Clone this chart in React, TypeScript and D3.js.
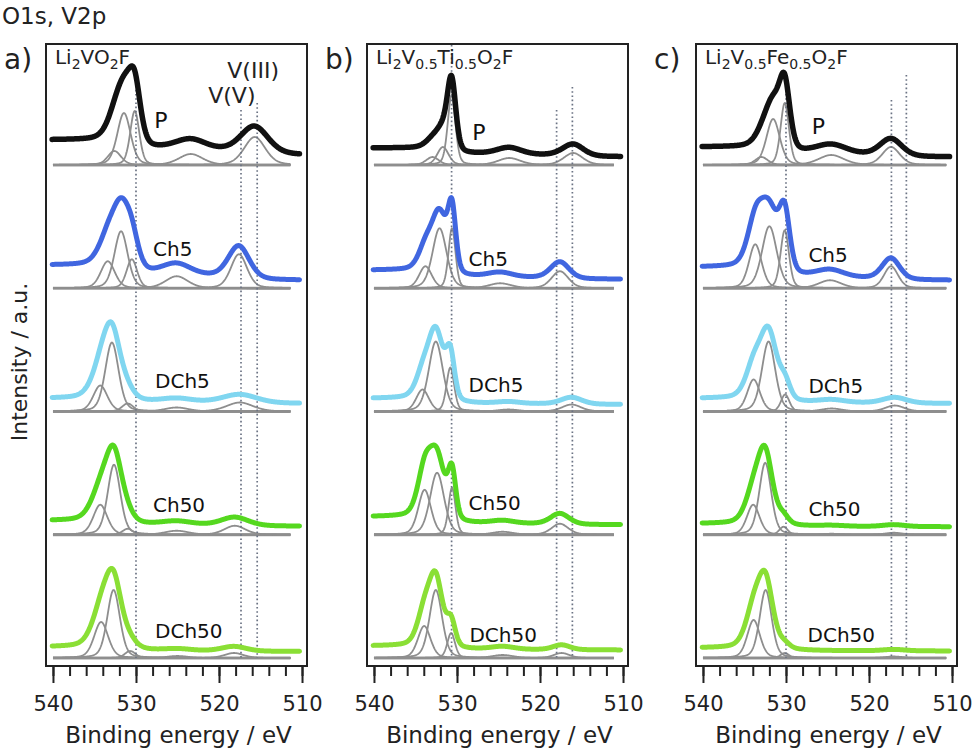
import { useEffect, useRef } from 'react';
import * as d3 from 'd3';

type Peak = [number, number, number];

const rowNames = ['P', 'Ch5', 'DCh5', 'Ch50', 'DCh50'];
const rowColors = ['#111111', '#4066e0', '#80d6f0', '#55d81f', '#8adf35'];
const panelLetters = ['a)', 'b)', 'c)'];

const formulaA: [string, boolean][] = [['Li', false], ['2', true], ['VO', false], ['2', true], ['F', false]];
const formulaB: [string, boolean][] = [['Li', false], ['2', true], ['V', false], ['0.5', true], ['Ti', false], ['0.5', true], ['O', false], ['2', true], ['F', false]];
const formulaC: [string, boolean][] = [['Li', false], ['2', true], ['V', false], ['0.5', true], ['Fe', false], ['0.5', true], ['O', false], ['2', true], ['F', false]];

// fitted components per row: [centre / eV, height / a.u., FWHM / eV]
const peaksA: Peak[][] = [
  [[532.6, 0.14, 1.9], [531.45, 0.52, 1.9], [530.15, 0.54, 1.3], [523.4, 0.11, 3.4], [515.7, 0.28, 3.0]],
  [[533.4, 0.27, 2.0], [531.8, 0.57, 1.9], [530.5, 0.29, 1.5], [525.1, 0.12, 3.2], [517.6, 0.34, 2.3]],
  [[534.3, 0.26, 2.0], [532.9, 0.69, 1.9], [531.0, 0.08, 1.6], [525.1, 0.04, 3.4], [517.5, 0.09, 3.8]],
  [[534.3, 0.30, 2.0], [532.65, 0.70, 1.8], [531.0, 0.06, 1.5], [525.1, 0.04, 3.4], [518.1, 0.09, 3.0]],
  [[534.2, 0.36, 2.0], [532.7, 0.68, 1.8], [530.7, 0.07, 1.5], [525.0, 0.02, 3.0], [518.2, 0.05, 2.7]],
];
const peaksB: Peak[][] = [
  [[532.95, 0.08, 1.8], [531.7, 0.18, 1.6], [530.65, 0.70, 1.1], [523.7, 0.07, 3.2], [516.0, 0.12, 2.7]],
  [[533.8, 0.22, 1.8], [532.1, 0.60, 2.0], [530.6, 0.60, 1.0], [524.8, 0.05, 3.2], [517.6, 0.17, 2.4]],
  [[534.15, 0.22, 1.8], [532.55, 0.70, 2.0], [530.8, 0.44, 1.1], [523.8, 0.02, 3.0], [516.2, 0.07, 2.7]],
  [[533.9, 0.45, 1.8], [532.4, 0.62, 2.0], [530.6, 0.47, 1.0], [524.5, 0.03, 3.0], [517.6, 0.11, 2.4]],
  [[533.95, 0.32, 1.8], [532.55, 0.68, 1.8], [530.7, 0.25, 1.1], [524.5, 0.03, 3.0], [517.4, 0.05, 2.2]],
];
const peaksC: Peak[][] = [
  [[532.95, 0.08, 1.8], [531.55, 0.46, 1.9], [530.15, 0.62, 1.2], [524.55, 0.10, 3.6], [517.35, 0.18, 2.5]],
  [[533.7, 0.44, 1.8], [532.0, 0.62, 2.1], [530.15, 0.58, 1.2], [524.7, 0.08, 3.2], [517.35, 0.22, 2.0]],
  [[533.9, 0.32, 1.8], [532.1, 0.70, 1.9], [530.1, 0.17, 1.2], [524.5, 0.03, 3.0], [516.9, 0.06, 2.7]],
  [[533.95, 0.30, 1.8], [532.5, 0.72, 1.7], [530.3, 0.08, 1.2], [524.5, 0.01, 3.0], [517.0, 0.02, 2.5]],
  [[533.9, 0.38, 1.8], [532.45, 0.68, 1.7], [530.15, 0.05, 1.2], [517.0, 0.015, 2.5]],
];

// the measured envelopes look broader than the drawn components (per panel)
const envelopeBroadening = [1.3, 1.1, 1.25];
const envelopeScale = [0.95, 0.98, 0.96];

// background level at the high-BE and low-BE ends of each spectrum (a.u.)
const bgA = [[0.25, 0.10], [0.23, 0.08], [0.13, 0.08], [0.14, 0.085], [0.11, 0.065]];
const bgB = [[0.17, 0.083], [0.18, 0.09], [0.13, 0.07], [0.18, 0.10], [0.12, 0.08]];
const bgC = [[0.18, 0.08], [0.21, 0.08], [0.13, 0.08], [0.11, 0.08], [0.10, 0.07]];

// dotted guides: [eV, top in a.u. above the first baseline]
const guidesA = [[530.0, 0.92], [517.35, 0.55], [515.4, 0.62]];
const guidesB = [[530.65, 1.2], [518.0, 0.55], [516.1, 0.78]];
const guidesC = [[530.0, 0.92], [517.3, 0.65], [515.5, 0.9]];

// row label anchors: [eV, a.u. above the row baseline]
const labelsA = [[527.8, 0.37], [527.95, 0.32], [527.7, 0.235], [527.95, 0.23], [527.7, 0.2]];
const labelsB = [[528.15, 0.25], [528.6, 0.22], [528.6, 0.195], [528.6, 0.25], [528.5, 0.16]];
const labelsC = [[526.9, 0.31], [527.3, 0.26], [527.3, 0.185], [527.3, 0.19], [527.4, 0.16]];

const stateLabels: [string, number, number][] = [['V(III)', 519.0, 0.87], ['V(V)', 521.3, 0.62]];

const baseEnds = [511.4, 511.1, 510.7];
const energyTicks = d3.range(510, 541, 2);
const majorTicks = [540, 530, 520, 510];

const panels = [
  { formula: formulaA, peaks: peaksA, bg: bgA, guides: guidesA, labels: labelsA },
  { formula: formulaB, peaks: peaksB, bg: bgB, guides: guidesB, labels: labelsB },
  { formula: formulaC, peaks: peaksC, bg: bgC, guides: guidesC, labels: labelsC },
];

// Gaussian-Lorentzian mix, GL(30)
function lineShape(e: number, p: Peak, widen = 1) {
  const u = (e - p[0]) / (p[2] * widen);
  return p[1] * (0.7 * Math.exp(-4 * Math.LN2 * u * u) + 0.3 / (1 + 4 * u * u));
}

export default function App() {
  const svgRef = useRef<SVGSVGElement>(null);

  useEffect(() => {
    if (!svgRef.current) return;
    const font = 'DejaVu Sans, Verdana, sans-serif';
    const svg = d3.select(svgRef.current);
    svg.selectAll('*').remove();

    const frameTop = 44;
    const frameBottom = 666;
    const panelWidth = 261;
    const panelLeft = d3.scaleOrdinal<number, number>().domain([0, 1, 2]).range([46, 367, 696]);
    const rowScale = d3.scaleLinear().domain([0, 4]).range([165, 658]);
    const yUnit = d3.scaleLinear().domain([0, 1]).range([0, -100]);
    const grid = d3.range(510.3, 540.1001, 0.05);

    svg.append('text')
      .attr('x', 2).attr('y', 24)
      .style('font-family', font).style('font-size', '23px').style('fill', '#222')
      .text('O1s, V2p');

    svg.append('text')
      .attr('transform', 'rotate(-90)')
      .attr('x', -362).attr('y', 27)
      .attr('text-anchor', 'middle')
      .style('font-family', font).style('font-size', '22px').style('fill', '#222')
      .text('Intensity / a.u.');

    panels.forEach((panel, pi) => {
      const left = panelLeft(pi);
      const x = d3.scaleLinear().domain([540.84, 509.4]).range([left, left + panelWidth]);
      const g = svg.append('g');
      const compLayer = g.append('g');
      const guideLayer = g.append('g');
      const envLayer = g.append('g');

      // letters and formula
      svg.append('text')
        .attr('x', left - 42).attr('y', 69)
        .style('font-family', font).style('font-size', '28px').style('fill', '#222')
        .text(panelLetters[pi]);

      const ft = g.append('text')
        .attr('x', x(540) + 2).attr('y', 64)
        .style('font-family', font).style('font-size', '20px').style('fill', '#222');
      let shifted = false;
      panel.formula.forEach(([s, sub]) => {
        const t = ft.append('tspan').text(s);
        if (sub && !shifted) { t.attr('dy', 5).style('font-size', '14px'); shifted = true; }
        else if (sub) { t.style('font-size', '14px'); }
        else if (shifted) { t.attr('dy', -5); shifted = false; }
      });

      const line = d3.line<[number, number]>()
        .x(d => x(d[0]))
        .y(d => yUnit(d[1]));

      panel.peaks.forEach((peaks, ri) => {
        const row = compLayer.append('g').attr('transform', `translate(0,${rowScale(ri)})`);
        const envRow = envLayer.append('g').attr('transform', `translate(0,${rowScale(ri)})`);
        const [bgHigh, bgLow] = panel.bg[ri];

        // envelope = components + Shirley-type step background
        const sums = grid.map(e => envelopeScale[pi] * d3.sum(peaks, p => lineShape(e, p, envelopeBroadening[pi])));
        const cum = d3.cumsum(sums);
        const total = cum[cum.length - 1];
        const envelope: [number, number][] = grid.map((e, i) => [e, sums[i] + bgLow + (bgHigh - bgLow) * cum[i] / total]);

        // baseline
        row.append('path')
          .attr('d', line([[540, 0], [baseEnds[pi], 0]]))
          .attr('stroke', '#9a9a9a').attr('stroke-width', 2.8).attr('fill', 'none');

        // components
        const compGrid = grid.filter(e => e >= baseEnds[pi] && e <= 540);
        peaks.forEach(p => {
          row.append('path')
            .attr('d', line(compGrid.map(e => [e, lineShape(e, p)] as [number, number])))
            .attr('stroke', '#8e8e8e').attr('stroke-width', 1.8).attr('fill', 'none')
            .attr('stroke-linejoin', 'round');
        });

        envRow.append('path')
          .attr('d', line(envelope))
          .attr('stroke', rowColors[ri]).attr('stroke-width', ri === 0 ? 5.5 : 5).attr('fill', 'none')
          .attr('stroke-linejoin', 'round').attr('stroke-linecap', 'round');

        const [le, ly] = panel.labels[ri];
        envRow.append('text')
          .attr('x', x(le)).attr('y', yUnit(ly))
          .style('font-family', font).style('font-size', ri === 0 ? '22px' : '20px').style('fill', '#111')
          .text(rowNames[ri]);
      });

      // dotted guides, under the envelopes
      panel.guides.forEach(([e, top]) => {
        guideLayer.append('line')
          .attr('x1', x(e)).attr('x2', x(e))
          .attr('y1', rowScale(0) + yUnit(top)).attr('y2', rowScale(4))
          .attr('stroke', '#6b7384').attr('stroke-width', 1.7)
          .attr('stroke-dasharray', '1.6 2.6');
      });

      if (pi === 0) {
        stateLabels.forEach(([s, e, v]) => {
          g.append('text')
            .attr('x', x(e)).attr('y', rowScale(0) + yUnit(v))
            .style('font-family', font).style('font-size', '22px').style('fill', '#222')
            .text(s);
        });
      }

      // frame
      svg.append('rect')
        .attr('x', left).attr('y', frameTop)
        .attr('width', panelWidth).attr('height', frameBottom - frameTop)
        .attr('fill', 'none').attr('stroke', '#222').attr('stroke-width', 2);

      // axes: minor and major ticks
      const minor = svg.append('g')
        .attr('transform', `translate(0,${frameBottom + 1})`)
        .call(d3.axisBottom(x).tickValues(energyTicks).tickSize(9).tickFormat(() => ''));
      minor.select('.domain').remove();
      minor.selectAll('line').attr('stroke', '#222').attr('stroke-width', 2);

      const major = svg.append('g')
        .attr('transform', `translate(0,${frameBottom + 1})`)
        .call(d3.axisBottom(x).tickValues(majorTicks).tickSize(16).tickPadding(13).tickFormat(d3.format('d')));
      major.select('.domain').remove();
      major.selectAll('line').attr('stroke', '#222').attr('stroke-width', 2);
      major.selectAll('text')
        .style('font-family', font).style('font-size', '21px').style('fill', '#222');

      svg.append('text')
        .attr('x', left + panelWidth / 2 + 2).attr('y', 743)
        .attr('text-anchor', 'middle')
        .style('font-family', font).style('font-size', '23px').style('fill', '#222')
        .text('Binding energy / eV');
    });
  }, []);

  return (
    <div style={{ position: 'absolute', left: 0, top: 0 }}>
      <svg ref={svgRef} width={974} height={755} style={{ display: 'block', background: '#fff' }} />
    </div>
  );
}
